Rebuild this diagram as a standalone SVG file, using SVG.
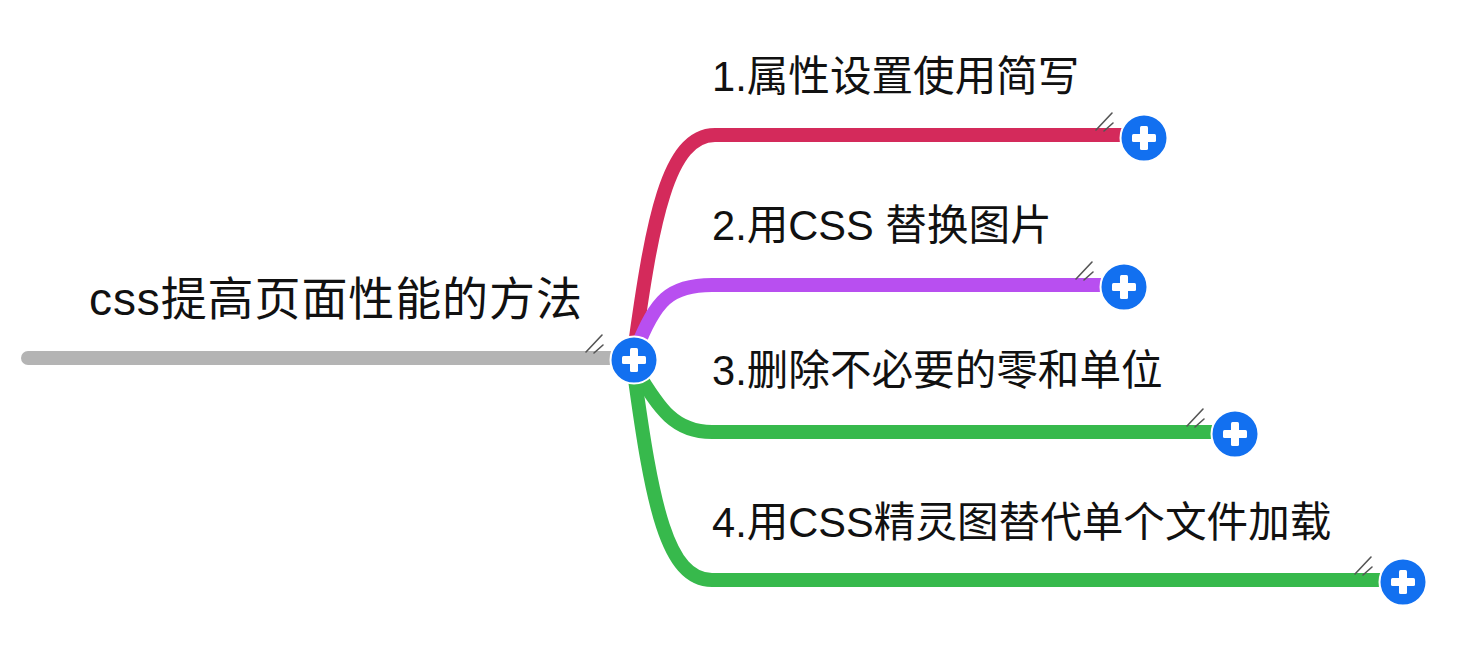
<svg xmlns="http://www.w3.org/2000/svg" width="1468" height="646" viewBox="0 0 1468 646">
<style>
.t{font-family:"Liberation Sans","Noto Sans CJK SC",sans-serif;fill:#111;}
.root{font-size:46px;letter-spacing:0.9px;}
.lbl{font-size:41.6px;}
.br{fill:none;stroke-width:14;stroke-linecap:round;stroke-linejoin:round;}
.hatch{stroke:#555;stroke-width:1.6;stroke-linecap:round;fill:none;}
.pc{fill:#1270f0;stroke:#fff;stroke-width:2;}
.px{fill:#fff;}
</style>
<defs>
<g id="plus">
<path class="hatch" d="M-48,-8 L-32,-25 M-40,-7 L-31,-15"/>
<circle class="pc" r="23.5"/>
<rect class="px" x="-12" y="-4" width="24" height="8" rx="1.5"/>
<rect class="px" x="-4" y="-12" width="8" height="24" rx="1.5"/>
</g>
</defs>
<rect width="1468" height="646" fill="#fff"/>
<g id="connectors">
<path class="br" stroke="#b4b4b4" d="M28,358 L620,358"/>
<path class="br" stroke="#d42a5b" d="M634,352 C652,220 668,135 715,135 L1140,135"/>
<path class="br" stroke="#b84ff0" d="M636,350 C655,300 670,285 712,285 L1120,285"/>
<path class="br" stroke="#37b94c" d="M636,370 C660,410 675,432 712,432 L1232,432"/>
<path class="br" stroke="#37b94c" d="M634,372 C652,505 667,580 712,580 L1400,580"/>
</g>
<g id="root">
<text class="t root" x="89" y="315">css提高页面性能的方法</text>
<use href="#plus" x="634" y="360"/>
</g>
<g id="node1">
<text class="t lbl" x="712" y="91">1.属性设置使用简写</text>
<use href="#plus" x="1144" y="138"/>
</g>
<g id="node2">
<text class="t lbl" x="712" y="240">2.用CSS 替换图片</text>
<use href="#plus" x="1124" y="287"/>
</g>
<g id="node3">
<text class="t lbl" x="712" y="385">3.删除不必要的零和单位</text>
<use href="#plus" x="1235" y="434"/>
</g>
<g id="node4">
<text class="t lbl" x="712" y="537">4.用CSS精灵图替代单个文件加载</text>
<use href="#plus" x="1403" y="582"/>
</g>
</svg>
